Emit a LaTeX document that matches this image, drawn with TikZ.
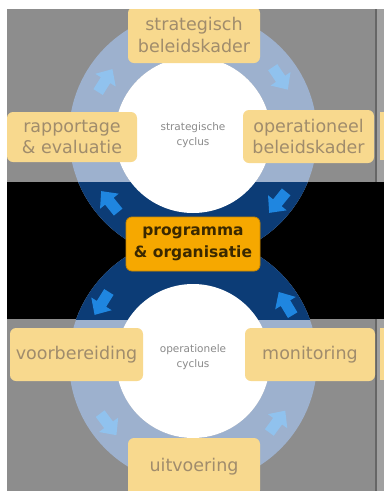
\documentclass[tikz,border=0pt]{standalone}
\usepackage{fontspec}
\setmainfont{DejaVu Sans}
\definecolor{bggray}{HTML}{8D8D8D}
\definecolor{stripgray}{HTML}{A0A0A0}
\definecolor{ringlight}{HTML}{9DB1CE}
\definecolor{ringdark}{HTML}{0C3C76}
\definecolor{arrlight}{HTML}{90C2EE}
\definecolor{arrdark}{HTML}{1F86E0}
\definecolor{boxfill}{HTML}{F8D98E}
\definecolor{boxtext}{HTML}{A08C6C}
\definecolor{ctrfill}{HTML}{F6A800}
\definecolor{ctrline}{HTML}{C98600}
\definecolor{ctrtext}{HTML}{3A2800}
\definecolor{cyctext}{HTML}{8A8A8A}
\tikzset{
  phasebox/.style={draw=none, fill=boxfill, rounded corners=6pt, text=boxtext,
    align=center, inner sep=0pt, font=\fontsize{17.5}{21.5}\selectfont},
  centerbox/.style={draw=ctrline, line width=0.8pt, fill=ctrfill, rounded corners=6pt, text=ctrtext,
    align=center, inner sep=0pt, font=\fontsize{15.5}{21.5}\selectfont\bfseries},
  cyclabel/.style={text=cyctext, align=center, inner sep=0pt, font=\fontsize{10.5}{15}\selectfont},
}
\newcommand\blkarrow[3]{%
  \fill[#3, shift={(#1)}, rotate=#2] (-13,-5.5) -- (1,-5.5) -- (1,-12) -- (14,0) -- (1,12) -- (1,5.5) -- (-13,5.5) -- cycle;}
\begin{document}
\begin{tikzpicture}[x=1pt,y=-1pt]
\useasboundingbox (0,0) rectangle (384,491);
\fill[white] (0,0) rectangle (384,491);
\fill[bggray] (7,9) rectangle (384,491);
\fill[stripgray] (377,9) rectangle (384,491);
\fill[boxfill] (380,112) rectangle (384,160);
\fill[boxfill] (380,328) rectangle (384,380);
\fill[black] (7,182) rectangle (384,319);
\draw[black!60, line width=1.5pt] (376,9) -- (376,182);
\draw[black!60, line width=1.5pt] (376,319) -- (376,491);
\begin{scope}
\clip (7,9) rectangle (375,491);
% rings
\fill[ringlight, even odd rule] (193,135) circle[radius=124] (193,135) circle[radius=78];
\fill[ringlight, even odd rule] (193,361) circle[radius=124] (193,361) circle[radius=77];
\begin{scope}
\clip (7,182) rectangle (375,319);
\fill[ringdark] (193,135) circle[radius=124];
\fill[ringdark] (193,361) circle[radius=124];
\end{scope}
\fill[white] (193,135) circle[radius=78];
\fill[white] (193,361) circle[radius=77];
% arrows upper cycle (clockwise)
\blkarrow{105,81}{58}{arrlight}
\blkarrow{280,78}{-56}{arrlight}
\blkarrow{278,202}{-129}{arrdark}
\blkarrow{110,202}{129}{arrdark}
% arrows lower cycle (counter-clockwise)
\blkarrow{102,303}{-122}{arrdark}
\blkarrow{286,304}{121}{arrdark}
\blkarrow{108,424}{-53}{arrlight}
\blkarrow{277,422}{54}{arrlight}
% cycle labels
\node[cyclabel] (sc) at (193,135) {strategische\\cyclus};
\node[cyclabel] (oc) at (193,357) {operationele\\cyclus};
% boxes
\node[phasebox, minimum width=132pt, minimum height=56pt] (sb) at (194,35) {strategisch\\beleidskader};
\node[phasebox, minimum width=130pt, minimum height=50pt] (re) at (72,137) {rapportage\\\&\ evaluatie};
\node[phasebox, minimum width=131pt, minimum height=53pt] (ob) at (308.5,136.5) {operationeel\\beleidskader};
\node[centerbox, minimum width=134pt, minimum height=54pt] (po) at (193,244) {programma\\\&\ organisatie};
\node[phasebox, minimum width=133pt, minimum height=53pt] (vb) at (76.5,354.5) {voorbereiding};
\node[phasebox, minimum width=130pt, minimum height=53pt] (mo) at (310,354.5) {monitoring};
\node[phasebox, minimum width=132pt, minimum height=58pt] (uv) at (194,467) {uitvoering};
\end{scope}
\end{tikzpicture}
\end{document}
